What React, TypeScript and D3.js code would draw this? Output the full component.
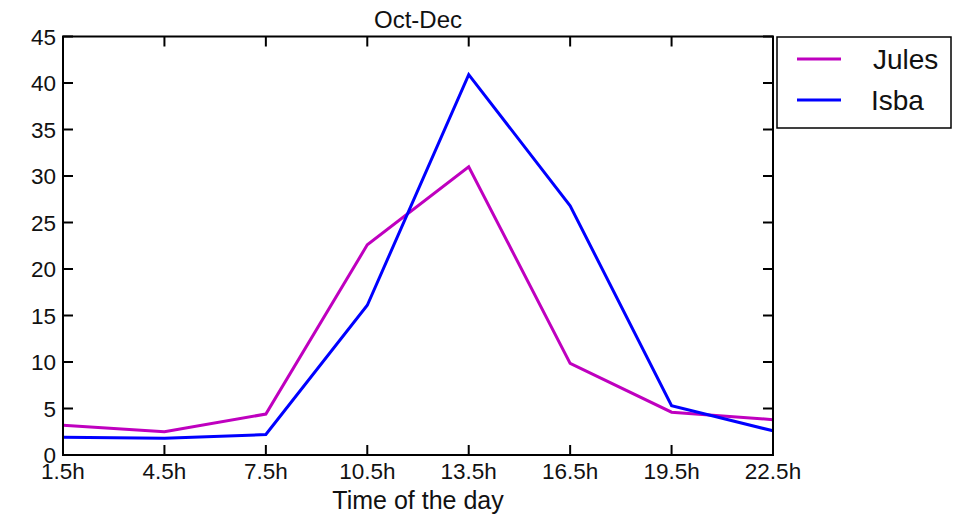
import React from "react";
import * as d3 from "d3";

const hours = ["1.5h", "4.5h", "7.5h", "10.5h", "13.5h", "16.5h", "19.5h", "22.5h"];
const jules = [3.2, 2.5, 4.4, 22.6, 31.0, 9.85, 4.6, 3.8];
const isba = [1.9, 1.8, 2.2, 16.1, 40.9, 26.8, 5.3, 2.6];
const yTicks = [0, 5, 10, 15, 20, 25, 30, 35, 40, 45];
const seriesNames = ["Jules", "Isba"];
const seriesColors = ["#bf00bf", "#0000ff"];

const W = 957;
const H = 519;
const left = 63;
const right = 773;
const top = 36.5;
const bottom = 455;
const font = "'Liberation Sans', Arial, sans-serif";

export default function App() {
  const x = d3.scalePoint<string>().domain(hours).range([left, right]);
  const y = d3.scaleLinear().domain([0, 45]).range([bottom, top]);

  const line = d3
    .line<number>()
    .x((_, i) => x(hours[i]) as number)
    .y((d) => y(d));

  const series = [jules, isba];
  const tickLen = 10;

  return (
    <svg
      width={W}
      height={H}
      style={{ position: "absolute", left: 0, top: 0, background: "#fff" }}
      fontFamily={font}
    >
      {/* lines */}
      {series.map((s, k) => (
        <path key={k} d={line(s) || ""} fill="none" stroke={seriesColors[k]} strokeWidth={3} strokeLinejoin="miter" />
      ))}

      {/* frame */}
      <rect x={left} y={top} width={right - left} height={bottom - top} fill="none" stroke="#000" strokeWidth={2} />

      {/* y ticks */}
      {yTicks.map((t) => (
        <g key={t}>
          <line x1={left} x2={left + tickLen} y1={y(t)} y2={y(t)} stroke="#000" strokeWidth={2} />
          <line x1={right} x2={right - tickLen} y1={y(t)} y2={y(t)} stroke="#000" strokeWidth={2} />
          <text x={left - 7} y={y(t)} dy="0.36em" textAnchor="end" fontSize={22.5} fill="#111">
            {t}
          </text>
        </g>
      ))}

      {/* x ticks */}
      {hours.map((h) => (
        <g key={h}>
          <line x1={x(h)} x2={x(h)} y1={bottom} y2={bottom - tickLen} stroke="#000" strokeWidth={2} />
          <line x1={x(h)} x2={x(h)} y1={top} y2={top + tickLen} stroke="#000" strokeWidth={2} />
          <text x={x(h)} y={479} textAnchor="middle" fontSize={22.5} fill="#111">
            {h}
          </text>
        </g>
      ))}

      {/* title & label */}
      <text x={(left + right) / 2} y={28} textAnchor="middle" fontSize={24} fill="#111">
        Oct-Dec
      </text>
      <text x={(left + right) / 2} y={509} textAnchor="middle" fontSize={25} fill="#111">
        Time of the day
      </text>

      {/* legend */}
      <rect x={777} y={37} width={174} height={91} fill="#fff" stroke="#000" strokeWidth={1.5} />
      {seriesNames.map((n, k) => (
        <g key={n}>
          <line x1={797} x2={841} y1={59 + k * 41} y2={59 + k * 41} stroke={seriesColors[k]} strokeWidth={3} />
          <text x={k === 0 ? 873 : 871} y={69 + k * 41} fontSize={28} fill="#111">
            {n}
          </text>
        </g>
      ))}
    </svg>
  );
}
